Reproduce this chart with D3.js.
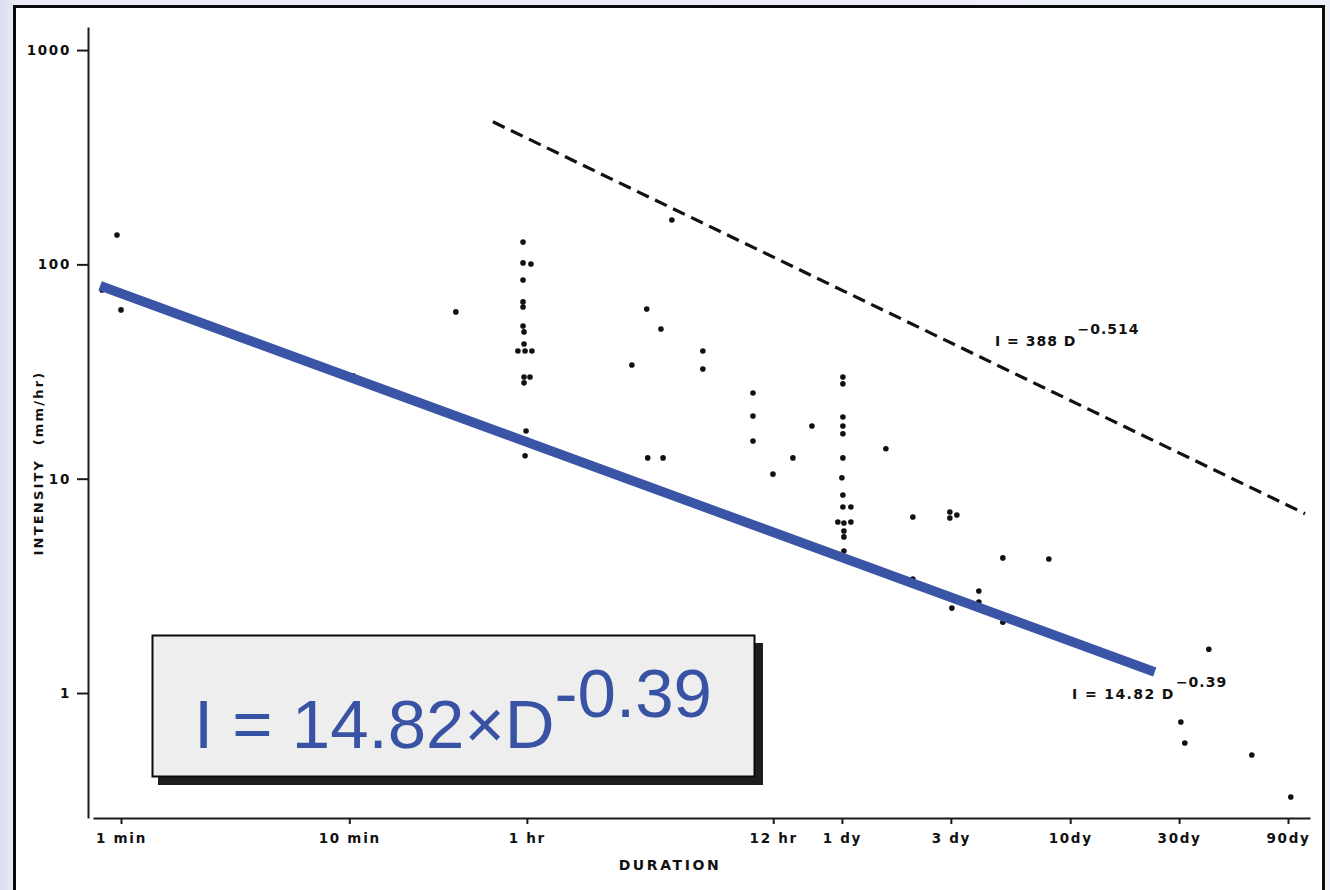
<!DOCTYPE html>
<html>
<head>
<meta charset="utf-8">
<script src="https://cdn.jsdelivr.net/npm/d3@7"></script>
<style>
  html, body { margin: 0; padding: 0; }
  body { width: 1330px; height: 890px; overflow: hidden;
         background: linear-gradient(90deg, #dcdded 0px, #e9eaf6 14px, #eceef8 100%); }
  svg { display: block; }
  .scan { font-family: "DejaVu Sans", sans-serif; }
</style>
</head>
<body>
<svg id="chart" width="1330" height="890"></svg>
<script>
// Rainfall intensity vs. duration (log-log)
// durations in minutes, intensities in mm/hr
const durationMin = [
  0.96, 1.0, 0.826, 9.77, 10.4, 29.3,
  57.7, 57.7, 62.5, 57.7, 57.7, 57.7, 57.7, 58.3, 58.3, 54.8, 58.9, 63.1,
  58.3, 61.9, 58.3, 59.5, 59.5, 58.9,
  201, 232, 173, 354, 354, 203, 237, 259,
  587, 587, 587, 1064, 878, 718, 480,
  1454, 1454, 1454, 1454, 1454, 1454, 1439, 1454, 1454, 1576,
  1382, 1469, 1576, 1469, 1469, 1469,
  2243, 2945, 2945, 4277, 4590, 4277, 4365, 5730, 5730,
  7300, 7300, 11610, 17740, 58300, 43970, 45760, 89950, 133300
];
const intensity = [
  137, 61.3, 76.0, 30.2, 30.2, 60.0,
  127, 101.6, 100.4, 84.6, 66.8, 63.3, 51.6, 48.4, 42.5, 39.4, 39.4, 39.4,
  29.8, 29.8, 28.0, 16.7, 15.2, 12.8,
  61.9, 49.9, 33.9, 39.4, 32.5, 12.5, 12.5, 161,
  25.1, 19.6, 15.0, 17.6, 12.5, 10.5, 6.63,
  29.8, 27.7, 19.4, 17.6, 16.2, 12.5, 10.1, 8.39, 7.38, 7.38,
  6.28, 6.21, 6.28, 5.70, 5.35, 4.60,
  13.8, 6.63, 3.40, 6.99, 6.77, 6.56, 2.49, 2.99, 2.66,
  4.27, 2.14, 4.22, 1.64, 1.60, 0.732, 0.584, 0.514, 0.327
];

// axis ticks
const xTickValues = [1, 10, 60, 720, 1440, 4320, 14400, 43200, 129600];
const xTickLabels = ["1 min", "10 min", "1 hr", "12 hr", "1 dy", "3 dy", "10dy", "30dy", "90dy"];
const yTickValues = [1, 10, 100, 1000];
const yTickLabels = ["1", "10", "100", "1000"];

// axis extents
const xExtent = [0.7538, 161800];
const yExtent = [0.2611, 1281];

// fitted curves I = a * D^b  (D in hours)
const upperFit = { a: 388, b: -0.514, label: "I = 388 D", sup: "\u22120.514" };
const lowerFit = { a: 14.82, b: -0.39, label: "I = 14.82 D", sup: "\u22120.39" };
const upperSpanHr = [0.71, 2565];
const lowerSpanHr = [0.0135, 563];

const svg = d3.select("#chart");

// page frame
svg.append("rect")
  .attr("x", 14.5).attr("y", 6.5).attr("width", 1309).attr("height", 900)
  .attr("fill", "#ffffff").attr("stroke", "#0a0a0a").attr("stroke-width", 3);

const x = d3.scaleLog().domain(xExtent).range([93, 1310]);
const y = d3.scaleLog().domain(yExtent).range([818, 27]);

// axes
const xAxis = d3.axisBottom(x)
  .tickValues(xTickValues)
  .tickFormat((d, i) => xTickLabels[i])
  .tickSizeInner(6).tickSizeOuter(0).tickPadding(9);
const yAxis = d3.axisLeft(y)
  .tickValues(yTickValues)
  .tickFormat((d, i) => yTickLabels[i])
  .tickSizeInner(11).tickSizeOuter(0).tickPadding(5);

const gx = svg.append("g").attr("transform", "translate(0,818)").call(xAxis);
const gy = svg.append("g").attr("transform", "translate(88,0)").call(yAxis);

[gx, gy].forEach(g => {
  g.select(".domain").attr("stroke", "#1a1a1a").attr("stroke-width", 2);
  g.selectAll(".tick line").attr("stroke", "#1a1a1a").attr("stroke-width", 2);
  g.selectAll(".tick text")
    .attr("class", "scan")
    .attr("fill", "#111").attr("font-size", 13.5).attr("font-weight", "bold")
    .style("letter-spacing", "1.7px");
});
gy.selectAll(".tick text").attr("dx", "-1");

// axis titles
svg.append("text").attr("class", "scan")
  .attr("x", 670).attr("y", 870).attr("text-anchor", "middle")
  .attr("font-size", 14).attr("font-weight", "bold").attr("fill", "#111")
  .style("letter-spacing", "2.6px")
  .text("DURATION");
svg.append("text").attr("class", "scan")
  .attr("transform", "translate(43,463) rotate(-90)")
  .attr("text-anchor", "middle")
  .attr("font-size", 13).attr("font-weight", "bold").attr("fill", "#111")
  .style("letter-spacing", "2.2px")
  .style("white-space", "pre")
  .text("INTENSITY  (mm/hr)");

// observations
const points = durationMin.map((d, i) => ({ d, v: intensity[i] }));
svg.append("g").selectAll("circle").data(points).join("circle")
  .attr("cx", p => x(p.d)).attr("cy", p => y(p.v))
  .attr("r", 2.8).attr("fill", "#111");

// fitted curves
const curve = (fit, span) => span.map(h => ({ d: h * 60, v: fit.a * Math.pow(h, fit.b) }));
const line = d3.line().x(p => x(p.d)).y(p => y(p.v));

svg.append("path")
  .attr("d", line(curve(upperFit, upperSpanHr)))
  .attr("fill", "none").attr("stroke", "#111").attr("stroke-width", 3.2)
  .attr("stroke-dasharray", "13 7");

svg.append("path")
  .attr("d", line(curve(lowerFit, lowerSpanHr)))
  .attr("fill", "none").attr("stroke", "#3a55a5").attr("stroke-width", 9.5)
  .attr("stroke-linecap", "butt");

// curve annotations
function fitLabel(fit, px, py, spacing) {
  const t = svg.append("text").attr("class", "scan")
    .attr("x", px).attr("y", py)
    .attr("font-size", 14).attr("font-weight", "bold").attr("fill", "#111")
    .style("letter-spacing", spacing + "px").style("white-space", "pre");
  t.append("tspan").text(fit.label);
  t.append("tspan").attr("dy", -12).attr("dx", 1).style("letter-spacing", "1px").text(fit.sup);
}
fitLabel(upperFit, 995, 346, 1);
fitLabel(lowerFit, 1072, 699, 1.4);

// equation box
const box = svg.append("g");
box.append("rect")
  .attr("x", 158).attr("y", 643).attr("width", 605).attr("height", 142)
  .attr("fill", "#1e1e1e");
box.append("rect")
  .attr("x", 152.5).attr("y", 635.5).attr("width", 602).attr("height", 141)
  .attr("fill", "#eeeeee").attr("stroke", "#0a0a0a").attr("stroke-width", 2);
const eq = box.append("text")
  .attr("x", 194).attr("y", 748)
  .style("font-family", "'Liberation Sans', Arial, sans-serif")
  .attr("font-size", 69).attr("fill", "#3953a4");
eq.append("tspan").text("I = 14.82\u00d7D");
eq.append("tspan").attr("dy", -31).text("-0.39");
</script>
</body>
</html>
